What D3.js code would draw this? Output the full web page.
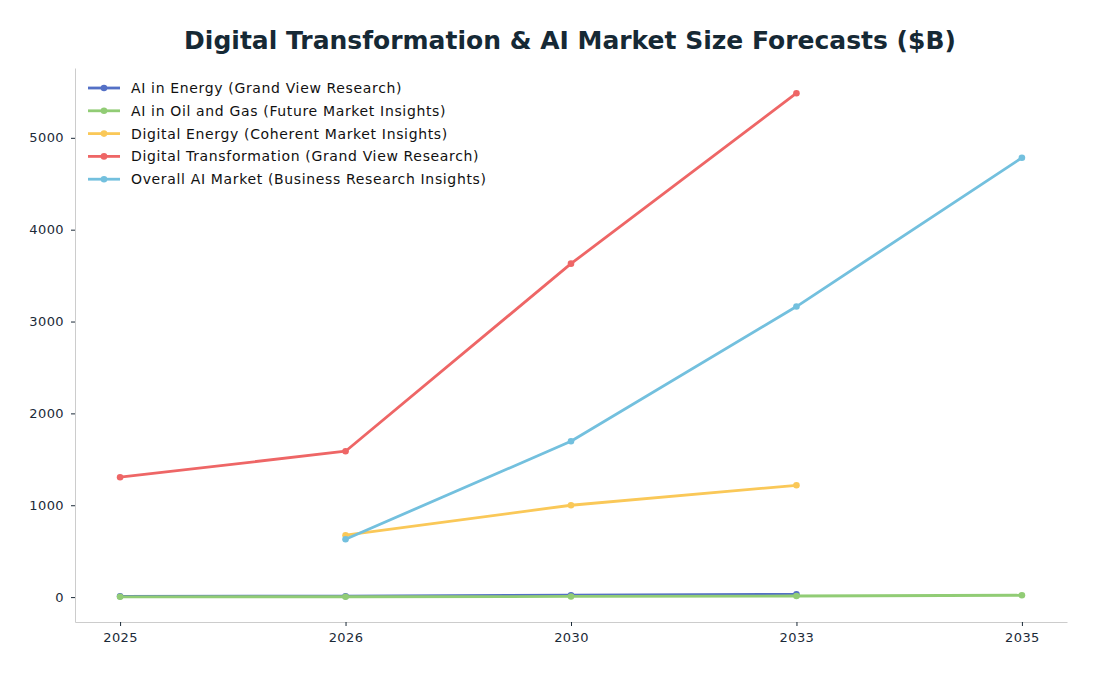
<!DOCTYPE html>
<meta charset="utf-8">
<style>
body { margin: 0; background: #fff; }
text { font-family: "DejaVu Sans", sans-serif; }
.axis text { font-size: 13px; fill: #1b2a38; font-family: "DejaVu Sans", sans-serif; letter-spacing: 0.4px; }
.axis line { stroke: #1b2a38; }
.axis path { stroke: #cccccc; }
.legend text { font-size: 14px; fill: #111; letter-spacing: 0.65px; }
</style>
<body>
<script src="https://cdn.jsdelivr.net/npm/d3@7"></script>
<script>

var width = 1096,
    height = 676;

// forecast years (categorical axis)
var years = ["2025", "2026", "2030", "2033", "2035"];

// values in $B, null where a source has no figure
var aiEnergy       = [8, 10, 20, 30, null];
var aiOilGas       = [3, 4, 7, 12, 20];
var digitalEnergy  = [null, 674, 1000, 1217, null];
var digitalTransf  = [1305, 1588, 3630, 5486, null];
var overallAI      = [null, 630, 1696, 3163, 4783];

var seriesNames = [
  "AI in Energy (Grand View Research)",
  "AI in Oil and Gas (Future Market Insights)",
  "Digital Energy (Coherent Market Insights)",
  "Digital Transformation (Grand View Research)",
  "Overall AI Market (Business Research Insights)"
];
var seriesColors = ["#5470c6", "#91cc75", "#fac858", "#ee6666", "#73c0de"];
var yTicks = [0, 1000, 2000, 3000, 4000, 5000];

var series = [aiEnergy, aiOilGas, digitalEnergy, digitalTransf, overallAI].map(function(vals, i) {
  return {
    name: seriesNames[i],
    color: seriesColors[i],
    points: vals.map(function(v, j) { return { i: j, v: v }; })
                .filter(function(d) { return d.v !== null; })
  };
});

var margin = { left: 75, right: 29, top: 68, bottom: 54 };

var x = d3.scaleLinear()
    .domain([-0.2, years.length - 1 + 0.2])
    .range([margin.left, width - margin.right]);

var allVals = [].concat.apply([], series.map(function(s) { return s.points.map(function(p) { return p.v; }); }));
var yMin = d3.min(allVals), yMax = d3.max(allVals), pad = (yMax - yMin) * 0.05;
var y = d3.scaleLinear()
    .domain([yMin - pad, yMax + pad])
    .range([height - margin.bottom, margin.top]);

var svg = d3.select("body").append("svg")
    .attr("width", width)
    .attr("height", height);

svg.append("text")
    .attr("x", 570)
    .attr("y", 49)
    .attr("text-anchor", "middle")
    .style("font-size", "25px")
    .style("font-weight", "bold")
    .style("fill", "#162935")
    .text("Digital Transformation & AI Market Size Forecasts ($B)");

// axes
var xAxis = d3.axisBottom(x)
    .tickValues(d3.range(years.length))
    .tickFormat(function(d) { return years[d]; })
    .tickSizeOuter(0)
    .tickSizeInner(4)
    .tickPadding(7);

var yAxis = d3.axisLeft(y)
    .tickValues(yTicks)
    .tickFormat(d3.format("d"))
    .tickSizeOuter(0)
    .tickSizeInner(4)
    .tickPadding(7);

svg.append("g")
    .attr("class", "axis")
    .attr("transform", "translate(0," + (height - margin.bottom) + ")")
    .call(xAxis);

svg.append("g")
    .attr("class", "axis")
    .attr("transform", "translate(" + margin.left + ",0)")
    .call(yAxis);

svg.selectAll(".axis .domain").attr("stroke", "#cccccc");

var line = d3.line()
    .x(function(d) { return x(d.i); })
    .y(function(d) { return y(d.v); });

var g = svg.selectAll(".series").data(series)
  .enter().append("g")
    .attr("class", "series");

g.append("path")
    .attr("d", function(d) { return line(d.points); })
    .attr("fill", "none")
    .attr("stroke", function(d) { return d.color; })
    .attr("stroke-width", 2.8)
    .attr("stroke-linejoin", "round")
    .attr("stroke-linecap", "round");

g.selectAll("circle")
    .data(function(d) { return d.points.map(function(p) { return { p: p, c: d.color }; }); })
  .enter().append("circle")
    .attr("cx", function(d) { return x(d.p.i); })
    .attr("cy", function(d) { return y(d.p.v); })
    .attr("r", 3.3)
    .attr("fill", function(d) { return d.c; });

// legend
var legend = svg.append("g")
    .attr("class", "legend")
    .attr("transform", "translate(88,88)");

var item = legend.selectAll("g").data(series)
  .enter().append("g")
    .attr("transform", function(d, i) { return "translate(0," + (i * 22.8) + ")"; });

item.append("line")
    .attr("x1", 0).attr("x2", 32)
    .attr("stroke", function(d) { return d.color; })
    .attr("stroke-width", 2.8);

item.append("circle")
    .attr("cx", 16)
    .attr("r", 3.3)
    .attr("fill", function(d) { return d.color; });

item.append("text")
    .attr("x", 43)
    .attr("dy", "0.35em")
    .text(function(d) { return d.name; });

</script>
</body>
